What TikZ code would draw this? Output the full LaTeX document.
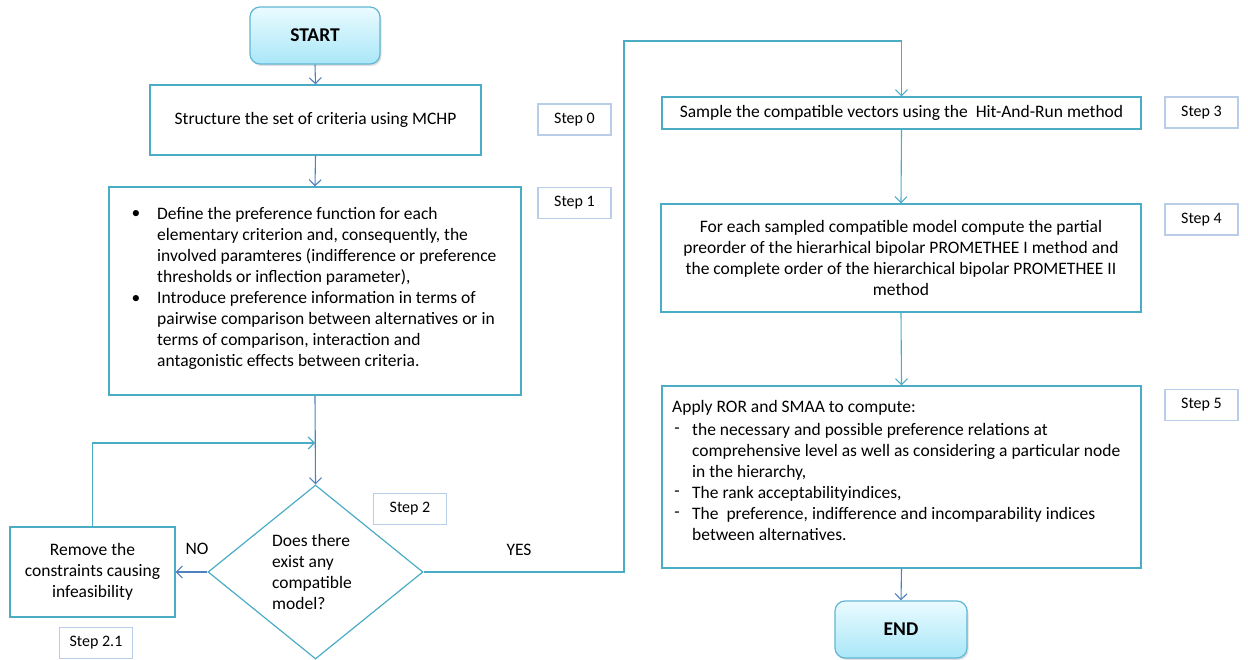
\documentclass[tikz,border=0pt]{standalone}
\usepackage{fontspec}
\setmainfont{Carlito}
\usetikzlibrary{arrows.meta,shapes.geometric,shapes.misc,shadows}

\definecolor{flowblue}{HTML}{4F81BD}
\definecolor{flowcyan}{HTML}{4BACC6}
\definecolor{tagedge}{HTML}{B9CDE8}
\definecolor{termtop}{HTML}{EAFBFF}
\definecolor{termbot}{HTML}{A9E7F8}
\definecolor{termedge}{HTML}{62B6D4}

\tikzset{
  body/.style={font=\fontsize{17.5}{21}\selectfont, text=black},
  procbox/.style={draw=flowcyan, line width=1.2pt, fill=white, inner sep=0pt},
  terminal/.style={draw=termedge, line width=1.2pt, rounded corners=10pt,
    top color=termtop, bottom color=termbot, inner sep=0pt,
    drop shadow={opacity=0.25, shadow xshift=1.5pt, shadow yshift=-2pt},
    font=\fontsize{19.5}{22}\selectfont\bfseries},
  steptag/.style={draw=tagedge, line width=1.2pt, fill=white, inner sep=0pt,
    minimum width=73pt, minimum height=31pt, font=\fontsize{16}{18}\selectfont},
  lbl/.style={body, inner sep=0pt, align=left},
  bluearrow/.style={draw=flowblue, line width=1.1pt, -{Straight Barb[length=6pt,width=12pt]}},
  cyanarrow/.style={draw=flowcyan, line width=1.1pt, -{Straight Barb[length=6pt,width=12pt]}},
}

\begin{document}
\begin{tikzpicture}[x=1pt,y=-1pt]
\useasboundingbox (0,0) rectangle (1248,660);

% --- terminals
\node[terminal, minimum width=130pt, minimum height=57pt] (start) at (315,35.5) {START};
\node[terminal, minimum width=132pt, minimum height=57pt] (end) at (901,629.5) {END};

% --- left column
\node[procbox, minimum width=331pt, minimum height=70pt, body] (s0) at (315.5,120)
  {Structure the set of criteria using MCHP};

\node[draw=flowcyan, line width=1.2pt, fill=white, chamfered rectangle,
  chamfered rectangle corners=north west, chamfered rectangle xsep=34pt,
  chamfered rectangle ysep=36pt, minimum width=412pt, minimum height=208pt,
  inner sep=0pt] (card) at (315,291) {};
\node[lbl] (b1) at (136,214) {\strut\textbullet};
\node[lbl] (b2) at (136,299) {\strut\textbullet};
\node[lbl, anchor=west] (cardtxt) at (157,288.5) {%
  Define the preference function for each\\
  elementary criterion and, consequently, the\\
  involved paramteres (indifference or preference\\
  thresholds or inflection parameter),\\
  Introduce preference information in terms of\\
  pairwise comparison between alternatives or in\\
  terms of comparison, interaction and\\
  antagonistic effects between criteria.};

\node[draw=flowcyan, line width=1.2pt, fill=white, diamond, inner sep=0pt,
  minimum width=215pt, minimum height=174pt] (dec) at (315.5,572) {};
\node[lbl, anchor=west] (dectxt) at (272,571.5) {Does there\\exist any\\compatible\\model?};

\node[procbox, minimum width=165pt, minimum height=90pt, body, align=center] (rm) at (92.5,572)
  {Remove the\\constraints causing\\infeasibility};

% --- right column
\node[procbox, minimum width=479pt, minimum height=32pt, body] (s3) at (901.5,113)
  {Sample the compatible vectors using the\ \ Hit-And-Run method};
\node[procbox, minimum width=480pt, minimum height=108pt, body, align=center] (s4) at (901,258)
  {For each sampled compatible model compute the partial\\
   preorder of the hierarhical bipolar PROMETHEE I method and\\
   the complete order of the hierarchical bipolar PROMETHEE II\\
   method};
\node[procbox, minimum width=479pt, minimum height=182pt] (s5) at (901.5,477) {};
\node[lbl, anchor=west] (s5head) at (672,408) {\strut Apply ROR and SMAA to compute:};
\node[lbl] (d1) at (677,429) {\strut -};
\node[lbl] (d2) at (677,492) {\strut -};
\node[lbl] (d3) at (677,513) {\strut -};
\node[lbl, anchor=west] (s5txt) at (692,481.5) {%
  the necessary and possible preference relations at\\
  comprehensive level as well as considering a particular node\\
  in the hierarchy,\\
  The rank acceptabilityindices,\\
  The\ \ preference, indifference and incomparability indices\\
  between alternatives.};

% --- step tags
\node[steptag] (t0) at (574.5,119.5) {Step 0};
\node[steptag] (t1) at (574.5,203) {Step 1};
\node[steptag] (t2) at (410,509) {Step 2};
\node[steptag] (t21) at (96,643) {Step 2.1};
\node[steptag] (t3) at (1201.5,112.5) {Step 3};
\node[steptag] (t4) at (1201.5,219.5) {Step 4};
\node[steptag] (t5) at (1201.5,405) {Step 5};

% --- branch labels
\node[lbl] (no) at (197,550) {\strut NO};
\node[lbl] (yes) at (519,551) {\strut YES};

% --- connectors
\coordinate (merge) at (315,443);
\coordinate (yesup) at (624,41);

\draw[bluearrow] (start.south) -- (s0.north);
\draw[bluearrow] (s0.south) -- (card.north);
\draw[bluearrow] (card.south) -- (dec.north);
\draw[cyanarrow] (rm.north) |- (merge);
\draw[bluearrow] (dec.west) -- (rm.east);
\draw[cyanarrow] (dec.east) -| (yesup) -| (s3.north);
\draw[cyanarrow] (s3.south) -- (s4.north);
\draw[cyanarrow] (s4.south) -- (s5.north);
\draw[bluearrow] (s5.south) -- (end.north);
\end{tikzpicture}
\end{document}
